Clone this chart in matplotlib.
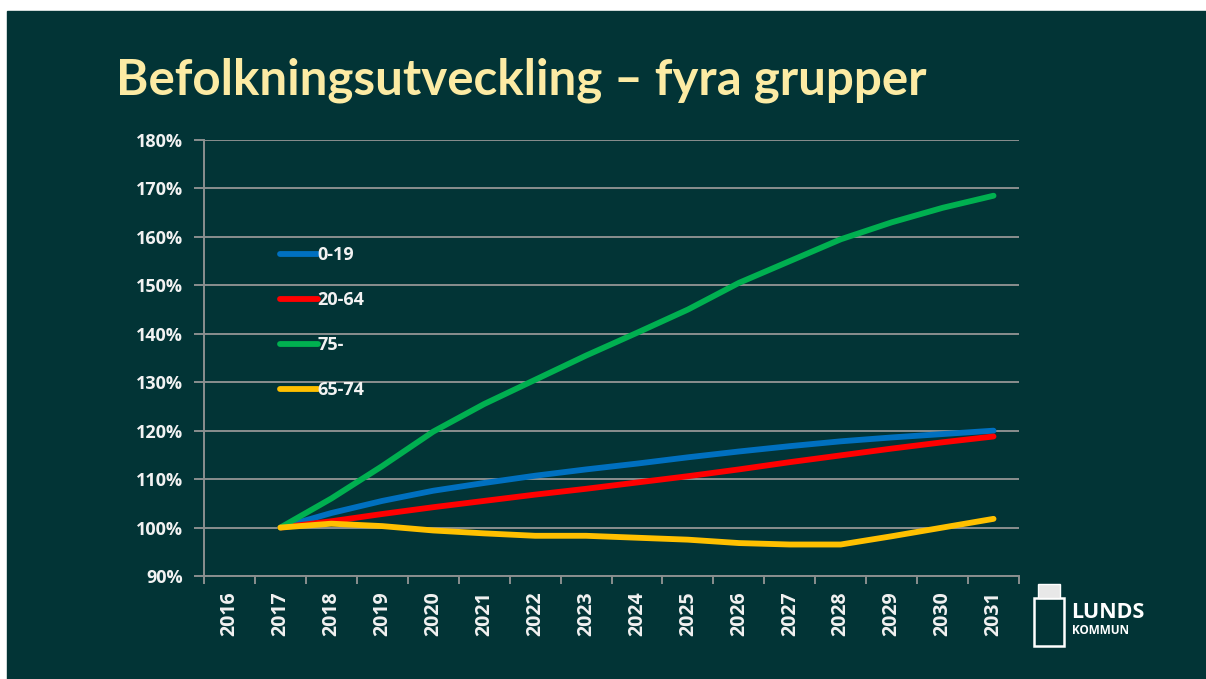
import matplotlib
matplotlib.use('Agg')
import matplotlib.pyplot as plt
from matplotlib.patches import Rectangle

# Data
years = ['2016', '2017', '2018', '2019', '2020', '2021', '2022', '2023',
         '2024', '2025', '2026', '2027', '2028', '2029', '2030', '2031']
# series start at 2017 (index 1)
age_0_19 = [100, 103.0, 105.5, 107.6, 109.2, 110.7, 112.0, 113.2,
            114.5, 115.7, 116.8, 117.8, 118.6, 119.3, 120.0]
age_20_64 = [100, 101.3, 102.8, 104.2, 105.5, 106.8, 108.0, 109.3,
             110.6, 112.0, 113.5, 114.9, 116.3, 117.6, 118.8]
age_75 = [100, 106.0, 112.7, 119.8, 125.5, 130.5, 135.5, 140.2,
          145.0, 150.5, 155.0, 159.5, 163.0, 166.0, 168.5]
age_65_74 = [100, 100.8, 100.3, 99.4, 98.8, 98.3, 98.3, 97.9,
             97.5, 96.8, 96.5, 96.5, 98.2, 100.0, 101.8]
series_names = ['0-19', '20-64', '75-', '65-74']
series_colors = ['#0070C0', '#FF0000', '#00B050', '#FFC000']

BG = '#023436'
GRID = '#8a8f8f'
LABEL = '#F2F2F2'

fig = plt.figure(figsize=(12.06, 6.79), dpi=100)
fig.patch.set_facecolor('white')
# dark slide area (small white strip at top and left)
fig.patches.append(Rectangle((7 / 1206, 0), 1, 1 - 11 / 679,
                             transform=fig.transFigure, color=BG, zorder=-5))

fig.text(116 / 1206, 1 - 80 / 679, 'Befolkningsutveckling – fyra grupper',
         color='#FCEBA4', fontsize=35.5, fontweight='bold', family='Lato',
         va='center', ha='left')

ax = fig.add_axes([204 / 1206, 1 - 576 / 679, 815 / 1206, 436 / 679])
ax.set_facecolor(BG)

x = list(range(1, len(years)))
for vals, name, col in zip([age_0_19, age_20_64, age_75, age_65_74],
                           series_names, series_colors):
    ax.plot(x, vals, color=col, lw=4.2, label=name,
            solid_capstyle='round', solid_joinstyle='round', zorder=3)

ax.set_xlim(-0.5, len(years) - 0.5)
ax.set_ylim(90, 180)
ax.set_yticks(range(90, 181, 10))
ax.set_yticklabels([f'{v}%' for v in range(90, 181, 10)])
ax.set_xticks(range(len(years)))
ax.set_xticklabels(years, rotation=90)
ax.set_xticks([i - 0.5 for i in range(len(years) + 1)], minor=True)

ax.grid(axis='y', color=GRID, lw=1.4, zorder=1)
for side in ['top', 'right']:
    ax.spines[side].set_visible(False)
for side in ['left', 'bottom']:
    ax.spines[side].set_color(GRID)
    ax.spines[side].set_linewidth(1.4)

ax.tick_params(axis='y', colors=GRID, length=7, width=1.4, pad=8)
ax.tick_params(axis='x', which='major', length=0, pad=11)
ax.tick_params(axis='x', which='minor', colors=GRID, length=6, width=1.4)
for lab in ax.get_yticklabels():
    lab.set_color(LABEL)
    lab.set_fontsize(13)
    lab.set_fontweight('bold')
    lab.set_family('Open Sans')
for lab in ax.get_xticklabels():
    lab.set_color(LABEL)
    lab.set_fontsize(14)
    lab.set_fontweight('bold')
    lab.set_family('Open Sans')

leg = ax.legend(loc='center left', bbox_to_anchor=(0.093, 0.581),
                frameon=False, handlelength=2.1, handletextpad=0.0,
                labelspacing=1.5, borderaxespad=0, borderpad=0,
                prop={'family': 'Open Sans', 'weight': 'bold', 'size': 13})
for t in leg.get_texts():
    t.set_color(LABEL)

# Lunds kommun logo
fig.text(1071 / 1206, 1 - 613 / 679, 'LUNDS', color='white', fontsize=15.5,
         fontweight='bold', family='Open Sans', va='center', ha='left')
fig.text(1072 / 1206, 1 - 631 / 679, 'KOMMUN', color='white', fontsize=8.5,
         fontweight='bold', family='Open Sans', va='center', ha='left')
fig.patches.append(Rectangle((1034 / 1206, 1 - 646 / 679), 30 / 1206, 48 / 679,
                             transform=fig.transFigure, fill=False,
                             ec='white', lw=1.8, zorder=2))
fig.patches.append(Rectangle((1038 / 1206, 1 - 598 / 679), 22 / 1206, 14 / 679,
                             transform=fig.transFigure, fill=True,
                             fc='#e8e8e8', ec='white', lw=1, zorder=2))

fig.savefig('out.png', dpi=100, facecolor=fig.get_facecolor())
